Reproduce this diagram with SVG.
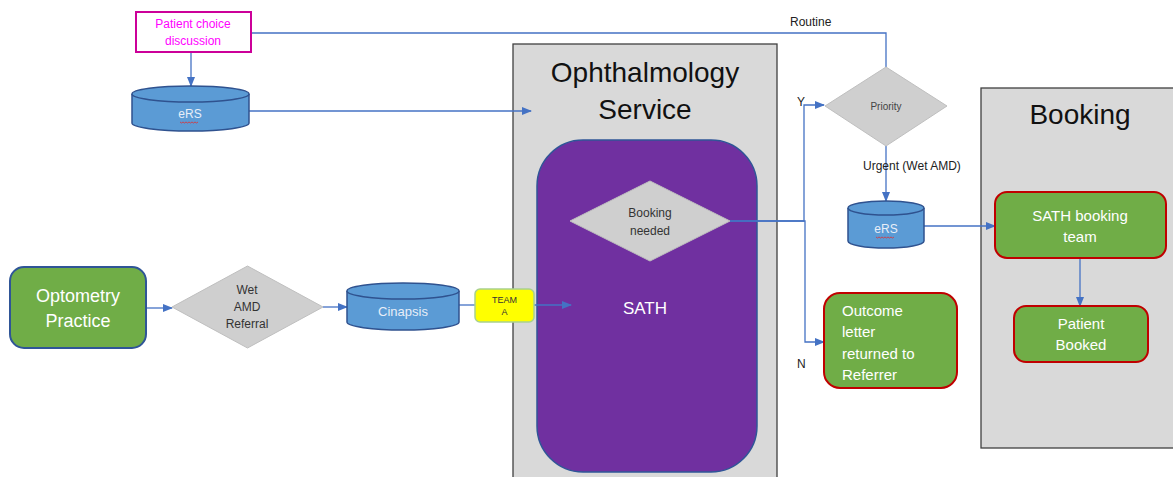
<svg xmlns="http://www.w3.org/2000/svg" width="1173" height="477" viewBox="0 0 1173 477">
<defs>
<marker id="ah" markerWidth="10" markerHeight="8" refX="9" refY="4" orient="auto" markerUnits="userSpaceOnUse">
<path d="M0,0 L10,4 L0,8 Z" fill="#4472c4"/>
</marker>
<style>
text{font-family:"Liberation Sans",Arial,sans-serif}
.c{fill:none;stroke:#4472c4;stroke-width:1.3}
.dia{fill:#cfcfcf;stroke:#bfbfbf;stroke-width:1}
.dt{fill:#333;font-size:12px;text-anchor:middle}
.cyl{fill:#5b9bd5;stroke:#2f528f;stroke-width:1.5}
.cylt{fill:#e8eef8;font-size:12px;text-anchor:middle}
.grn{fill:#70ad47;stroke:#c00000;stroke-width:2}
.wt{fill:#ffffff;font-size:15px}
.lbl{fill:#222;font-size:12px}
.sq{fill:none;stroke:#e03030;stroke-width:0.8}
</style>
</defs>
<rect width="1173" height="477" fill="#ffffff"/>

<g id="ophthalmology">
<rect x="513" y="44" width="264" height="440" fill="#d9d9d9" stroke="#404040" stroke-width="1.3"/>
<text x="645" y="82" font-size="28" text-anchor="middle" fill="#111">Ophthalmology</text>
<text x="645" y="119" font-size="28" text-anchor="middle" fill="#111">Service</text>
</g>
<g id="sath">
<rect x="537" y="140" width="220" height="332" rx="46" fill="#7030a0" stroke="#2f5597" stroke-width="1.5"/>
<text x="645" y="314" font-size="17" text-anchor="middle" fill="#ffffff">SATH</text>
</g>
<g id="booking">
<rect x="981" y="88" width="200" height="360" fill="#d9d9d9" stroke="#404040" stroke-width="1.3"/>
<text x="1080" y="124" font-size="28" text-anchor="middle" fill="#111">Booking</text>
</g>

<g id="connectors">
<path class="c" d="M252,33 H886 V67"/>
<path class="c" d="M191,52 V86" marker-end="url(#ah)"/>
<path class="c" d="M249,111 H531" marker-end="url(#ah)"/>
<path class="c" d="M146,308 H172" marker-end="url(#ah)"/>
<path class="c" d="M323,307 H347" marker-end="url(#ah)"/>
<path class="c" d="M459,305 H475"/>
<path class="c" d="M534,305 H571" marker-end="url(#ah)"/>
<path class="c" d="M730,221 H804 V105 H824" marker-end="url(#ah)"/>
<path class="c" d="M730,221 H805 V342 H824" marker-end="url(#ah)"/>
<path class="c" d="M886,146 V201" marker-end="url(#ah)"/>
<path class="c" d="M924,226 H995" marker-end="url(#ah)"/>
<path class="c" d="M1080,258 V306" marker-end="url(#ah)"/>
<text class="lbl" x="790" y="26">Routine</text>
<text class="lbl" x="797" y="106">Y</text>
<text class="lbl" x="863" y="170">Urgent (Wet AMD)</text>
<text class="lbl" x="797" y="368">N</text>
</g>

<g id="patient-choice">
<rect x="136" y="12" width="115" height="40" fill="#ffffff" stroke="#cc0099" stroke-width="2"/>
<text x="193" y="28" font-size="12" text-anchor="middle" fill="#ff00ff">Patient choice</text>
<text x="193" y="45" font-size="12" text-anchor="middle" fill="#ff00ff">discussion</text>
</g>

<g id="ers1">
<path class="cyl" d="M132,94 V123 A58.5,8 0 0 0 249,123 V94"/>
<ellipse class="cyl" cx="190.5" cy="94" rx="58.5" ry="8"/>
<text class="cylt" x="190" y="118">eRS</text>
<path class="sq" d="M180,122 q1.5,2 3,0 q1.5,2 3,0 q1.5,2 3,0 q1.5,2 3,0 q1.5,2 3,0 q1.5,2 3,0"/>
</g>

<g id="optometry">
<rect x="10" y="267" width="136" height="81" rx="14" fill="#70ad47" stroke="#2f5597" stroke-width="2"/>
<text class="wt" x="78" y="302" font-size="18" text-anchor="middle" style="font-size:18px">Optometry</text>
<text class="wt" x="78" y="327" text-anchor="middle" style="font-size:18px">Practice</text>
</g>

<g id="wet-amd">
<polygon class="dia" points="247.5,266 323,307 247.5,348 172,307"/>
<text class="dt" x="247" y="294">Wet</text>
<text class="dt" x="247" y="311">AMD</text>
<text class="dt" x="247" y="328">Referral</text>
</g>

<g id="cinapsis">
<path class="cyl" d="M347,291 V322 A56,8 0 0 0 459,322 V291"/>
<ellipse class="cyl" cx="403" cy="291" rx="56" ry="8"/>
<text class="cylt" x="403" y="316" style="font-size:13px">Cinapsis</text>
</g>

<g id="team-a">
<rect x="475" y="289" width="59" height="33" rx="5" fill="#ffff00" stroke="#a9d18e" stroke-width="1.5"/>
<text x="504.5" y="303" font-size="9" text-anchor="middle" fill="#333">TEAM</text>
<text x="504.5" y="315" font-size="9" text-anchor="middle" fill="#333">A</text>
</g>

<g id="booking-needed">
<polygon class="dia" points="650,181 730,221 650,261 570,221"/>
<text class="dt" x="650" y="217">Booking</text>
<text class="dt" x="650" y="235">needed</text>
</g>

<g id="priority">
<polygon class="dia" points="886,67 947,106 886,146 825,106"/>
<text x="886" y="110" font-size="10" text-anchor="middle" fill="#444">Priority</text>
</g>

<g id="ers2">
<path class="cyl" d="M848,208 V241 A38,7 0 0 0 924,241 V208"/>
<ellipse class="cyl" cx="886" cy="208" rx="38" ry="7"/>
<text class="cylt" x="886" y="233">eRS</text>
<path class="sq" d="M876,237 q1.5,2 3,0 q1.5,2 3,0 q1.5,2 3,0 q1.5,2 3,0 q1.5,2 3,0 q1.5,2 3,0"/>
</g>

<g id="outcome-letter">
<rect class="grn" x="824" y="293" width="133" height="95" rx="16"/>
<text class="wt" x="842" y="316">Outcome</text>
<text class="wt" x="842" y="337">letter</text>
<text class="wt" x="842" y="359">returned to</text>
<text class="wt" x="842" y="380">Referrer</text>
</g>

<g id="sath-booking-team">
<rect class="grn" x="995" y="192" width="171" height="66" rx="12"/>
<text class="wt" x="1080" y="221" text-anchor="middle">SATH booking</text>
<text class="wt" x="1080" y="242" text-anchor="middle">team</text>
</g>

<g id="patient-booked">
<rect class="grn" x="1014" y="306" width="134" height="56" rx="12"/>
<text class="wt" x="1081" y="329" text-anchor="middle">Patient</text>
<text class="wt" x="1081" y="350" text-anchor="middle">Booked</text>
</g>
</svg>
